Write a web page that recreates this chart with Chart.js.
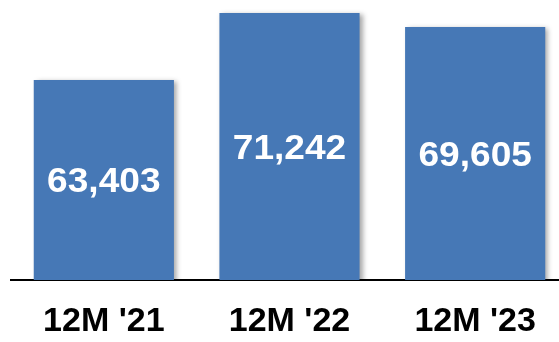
<!DOCTYPE html>
<html>
<head>
<meta charset="utf-8">
<script src="https://cdn.jsdelivr.net/npm/chart.js@4/dist/chart.umd.min.js"></script>
<style>
  html, body { margin: 0; padding: 0; background: #ffffff; overflow: hidden; }
  #wrap { position: relative; width: 568px; height: 342px; }
</style>
</head>
<body>
<div id="wrap"><canvas id="c"></canvas></div>
<script>
// Twelve-month totals per year
const categories = ["12M '21", "12M '22", "12M '23"];
const totals = [63403, 71242, 69605];

const barColor = '#4678B6';
const fontFamily = '"Liberation Sans", Arial, Helvetica, sans-serif';

// Soft drop shadow behind the bars
const barShadow = {
  id: 'barShadow',
  beforeDatasetDraw(chart) {
    const ctx = chart.ctx;
    ctx.save();
    ctx.shadowColor = 'rgba(0,0,0,0.35)';
    ctx.shadowBlur = 5;
    ctx.shadowOffsetX = 3;
    ctx.shadowOffsetY = 1;
  },
  afterDatasetDraw(chart) {
    chart.ctx.restore();
  }
};

// White value label centred inside the visible part of each bar
const valueLabels = {
  id: 'valueLabels',
  afterDatasetsDraw(chart) {
    const ctx = chart.ctx;
    const meta = chart.getDatasetMeta(0);
    const values = chart.data.datasets[0].data;
    const bottom = chart.chartArea.bottom;
    ctx.save();
    ctx.fillStyle = '#ffffff';
    ctx.font = 'bold 35px ' + fontFamily;
    ctx.textAlign = 'center';
    ctx.textBaseline = 'alphabetic';
    meta.data.forEach((bar, i) => {
      const mid = (bar.y + Math.min(bar.base, bottom)) / 2;
      const text = values[i].toLocaleString('en-US');
      ctx.save();
      ctx.translate(bar.x, mid + 12.5);
      ctx.scale(1.06, 1);
      ctx.fillText(text, 0, 0);
      ctx.restore();
    });
    ctx.restore();
  }
};

new Chart(document.getElementById('c'), {
  type: 'bar',
  data: {
    labels: categories,
    datasets: [{
      data: totals,
      backgroundColor: barColor,
      borderWidth: 0,
      categoryPercentage: 1,
      barPercentage: 0.755
    }]
  },
  options: {
    responsive: true,
    maintainAspectRatio: false,
    animation: false,
    devicePixelRatio: 1,
    layout: { padding: { left: 11, right: 0, top: 0, bottom: 0 } },
    plugins: {
      legend: { display: false },
      tooltip: { enabled: false }
    },
    scales: {
      x: {
        z: 1,
        grid: { display: false, drawTicks: false },
        border: { display: true, color: '#000000', width: 2 },
        ticks: {
          color: '#000000',
          padding: 21,
          maxRotation: 0,
          font: { family: fontFamily, size: 34, weight: 'bold' }
        },
        afterFit(scale) { scale.height = 62; }
      },
      y: {
        display: false,
        min: 40000,
        max: 72760
      }
    }
  },
  plugins: [barShadow, valueLabels]
});
</script>
</body>
</html>
